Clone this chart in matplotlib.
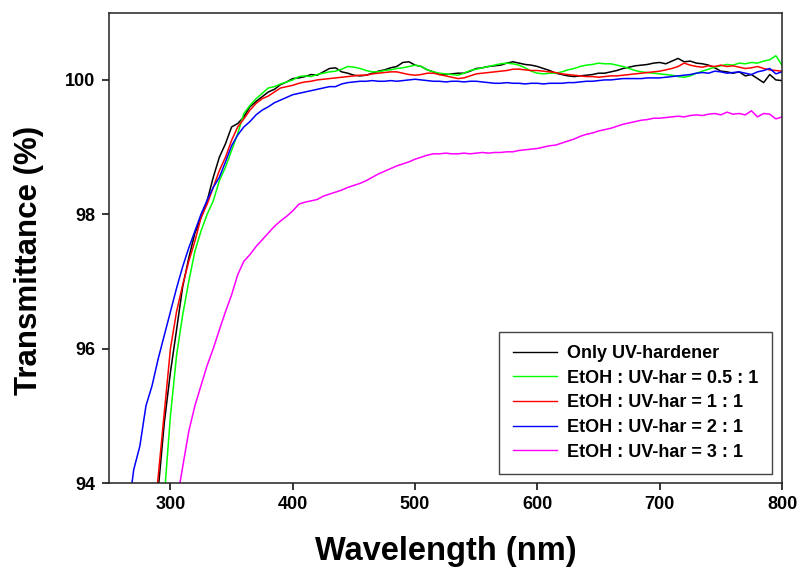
#Transmittance spectra of UV-hardener films with different EtOH ratios

import numpy as np
import matplotlib as mpl
mpl.use('Agg')
import matplotlib.pyplot as plt

plt.rcParams['font.family'] = ['Liberation Sans', 'DejaVu Sans']
plt.rcParams['font.weight'] = 'bold'

nan = np.nan

#Wavelength grid (nm), 265 to 800 every 5 nm
wavelength = np.arange(265, 805, 5)

#Transmittance (%), rows of 10 points
only_uv = [nan, nan, nan, nan, 93.0, 93.9, 94.9, 95.65, 96.28, 96.92,
           97.35, 97.72, 97.95, 98.2, 98.55, 98.85, 99.05, 99.3, 99.35, 99.45,
           99.6, 99.68, 99.75, 99.82, 99.86, 99.93, 99.97, 100.02, 100.03, 100.05,
           100.08, 100.07, 100.12, 100.17, 100.18, 100.12, 100.1, 100.07, 100.06, 100.07,
           100.1, 100.13, 100.15, 100.18, 100.2, 100.26, 100.27, 100.22, 100.2, 100.15,
           100.12, 100.08, 100.08, 100.09, 100.1, 100.1, 100.13, 100.17, 100.18, 100.2,
           100.21, 100.22, 100.25, 100.27, 100.25, 100.23, 100.22, 100.2, 100.17, 100.14,
           100.1, 100.08, 100.06, 100.05, 100.06, 100.07, 100.08, 100.1, 100.1, 100.12,
           100.14, 100.17, 100.19, 100.21, 100.22, 100.23, 100.25, 100.26, 100.24, 100.28,
           100.32, 100.27, 100.28, 100.25, 100.24, 100.22, 100.18, 100.13, 100.12, 100.1,
           100.12, 100.06, 100.08, 100.02, 99.96, 100.08, 100.0, 99.99]

ratio_05 = [nan, nan, nan, nan, nan, nan, 93.8, 95.0, 95.9, 96.5,
            97.0, 97.45, 97.75, 98.0, 98.2, 98.5, 98.7, 98.95, 99.2, 99.5,
            99.62, 99.72, 99.8, 99.88, 99.9, 99.94, 99.97, 100.0, 100.05, 100.06,
            100.05, 100.08, 100.1, 100.12, 100.13, 100.16, 100.2, 100.19, 100.17, 100.14,
            100.12, 100.12, 100.14, 100.15, 100.17, 100.18, 100.2, 100.22, 100.2, 100.15,
            100.12, 100.1, 100.09, 100.08, 100.07, 100.1, 100.14, 100.16, 100.18, 100.2,
            100.22, 100.24, 100.25, 100.24, 100.22, 100.18, 100.13, 100.1, 100.09, 100.1,
            100.1, 100.12, 100.15, 100.17, 100.2, 100.22, 100.23, 100.25, 100.24, 100.24,
            100.22, 100.2, 100.17, 100.14, 100.12, 100.11, 100.1, 100.09, 100.08, 100.07,
            100.05, 100.04, 100.06, 100.1, 100.13, 100.16, 100.19, 100.21, 100.23, 100.22,
            100.25, 100.24, 100.26, 100.25, 100.28, 100.3, 100.36, 100.22]

ratio_1 = [nan, nan, nan, nan, 93.2, 94.1, 95.05, 96.0, 96.55, 96.95,
           97.3, 97.6, 97.95, 98.15, 98.4, 98.65, 98.85, 99.1, 99.3, 99.42,
           99.55, 99.65, 99.72, 99.76, 99.82, 99.88, 99.9, 99.92, 99.95, 99.97,
           99.98, 100.0, 100.01, 100.02, 100.03, 100.04, 100.05, 100.06, 100.07, 100.07,
           100.09, 100.1, 100.11, 100.12, 100.12, 100.1, 100.08, 100.07, 100.08, 100.1,
           100.1, 100.08, 100.06, 100.04, 100.02, 100.03, 100.06, 100.09, 100.1, 100.11,
           100.12, 100.13, 100.14, 100.16, 100.16, 100.15, 100.14, 100.14, 100.13, 100.12,
           100.11, 100.09, 100.08, 100.07, 100.06, 100.05, 100.05, 100.04, 100.05, 100.06,
           100.06, 100.07, 100.08, 100.09, 100.1, 100.11, 100.12, 100.13, 100.15, 100.17,
           100.2, 100.25, 100.22, 100.2, 100.19, 100.21, 100.2, 100.22, 100.2, 100.21,
           100.19, 100.17, 100.18, 100.2, 100.17, 100.15, 100.14, 100.13]

ratio_2 = [93.5, 94.2, 94.55, 95.15, 95.45, 95.85, 96.2, 96.55, 96.9, 97.22,
           97.5, 97.75, 98.0, 98.21, 98.4, 98.55, 98.78, 99.02, 99.18, 99.3,
           99.38, 99.48, 99.55, 99.6, 99.66, 99.7, 99.74, 99.78, 99.8, 99.82,
           99.84, 99.86, 99.88, 99.9, 99.9, 99.94, 99.96, 99.97, 99.98, 99.98,
           99.99, 99.98, 99.98, 99.99, 99.98, 99.99, 100.0, 100.01, 100.0, 99.99,
           99.98, 99.98, 99.97, 99.98, 99.98, 99.97, 99.98, 99.98, 99.97, 99.96,
           99.95, 99.95, 99.96, 99.95, 99.95, 99.94, 99.95, 99.95, 99.94, 99.95,
           99.95, 99.95, 99.96, 99.96, 99.97, 99.98, 99.98, 99.99, 100.0, 100.0,
           100.01, 100.02, 100.02, 100.02, 100.02, 100.03, 100.03, 100.03, 100.04, 100.05,
           100.06, 100.07, 100.08, 100.1, 100.11, 100.1, 100.13, 100.12, 100.1, 100.11,
           100.12, 100.1, 100.08, 100.12, 100.14, 100.17, 100.09, 100.12]

ratio_3 = [nan, nan, nan, nan, nan, nan, nan, nan, 93.7, 94.24,
           94.77, 95.15, 95.45, 95.75, 96.0, 96.28, 96.55, 96.8, 97.1, 97.3,
           97.4, 97.52, 97.62, 97.72, 97.82, 97.9, 97.97, 98.05, 98.15, 98.18,
           98.2, 98.22, 98.27, 98.3, 98.33, 98.36, 98.4, 98.43, 98.46, 98.5,
           98.55, 98.6, 98.64, 98.68, 98.72, 98.75, 98.78, 98.82, 98.85, 98.88,
           98.9, 98.9, 98.91, 98.9, 98.9, 98.91, 98.9, 98.91, 98.92, 98.91,
           98.92, 98.92, 98.93, 98.93, 98.95, 98.96, 98.97, 98.98, 99.0, 99.02,
           99.03, 99.06, 99.09, 99.12, 99.16, 99.19, 99.21, 99.24, 99.26, 99.28,
           99.31, 99.34, 99.36, 99.38, 99.4, 99.41, 99.43, 99.43, 99.44, 99.45,
           99.46, 99.45, 99.47, 99.48, 99.47, 99.49, 99.5, 99.48, 99.52, 99.49,
           99.5, 99.48, 99.54, 99.45, 99.5, 99.49, 99.42, 99.45]

series = [only_uv, ratio_05, ratio_1, ratio_2, ratio_3]
labels = ['Only UV-hardener', 'EtOH : UV-har = 0.5 : 1', 'EtOH : UV-har = 1 : 1',
          'EtOH : UV-har = 2 : 1', 'EtOH : UV-har = 3 : 1']
colors = ['#000000', '#00ff00', '#ff0000', '#0000ff', '#ff00ff']

fig = plt.figure(figsize=(8, 5.79), dpi=100)
ax = fig.add_axes([0.1366, 0.1658, 0.8409, 0.8122])

for i in range(len(series)):
    ax.plot(wavelength, series[i], color=colors[i], linewidth=1.1, label=labels[i])

ax.set_xlim(250, 800)
ax.set_ylim(94, 101.0)
ax.set_xticks([300, 400, 500, 600, 700, 800])
ax.set_yticks([94, 96, 98, 100])

ax.tick_params(axis='both', direction='out', length=5, width=1.1, labelsize=13, pad=4)
ax.tick_params(axis='y', pad=5)
for label in ax.get_xticklabels() + ax.get_yticklabels():
    label.set_fontweight('bold')
for spine in ax.spines.values():
    spine.set_linewidth(1.1)
    spine.set_color('#222222')

ax.set_xlabel('Wavelength (nm)', fontsize=23.5, fontweight='bold')
ax.set_ylabel('Transmittance (%)', fontsize=22.5, fontweight='bold')
ax.xaxis.set_label_coords(0.5, -0.112)
ax.yaxis.set_label_coords(-0.097, 0.474)

leg = ax.legend(loc='lower right', bbox_to_anchor=(0.985, 0.019), borderaxespad=0,
                prop={'weight': 'bold', 'size': 13}, fancybox=False,
                edgecolor='#444444', framealpha=1, handlelength=2.45, handletextpad=0.55,
                labelspacing=0.42, borderpad=0.75)
leg.get_frame().set_linewidth(1.0)
for line in leg.get_lines():
    line.set_linewidth(1.0)

plt.savefig('out.png', dpi=100)
plt.close()
